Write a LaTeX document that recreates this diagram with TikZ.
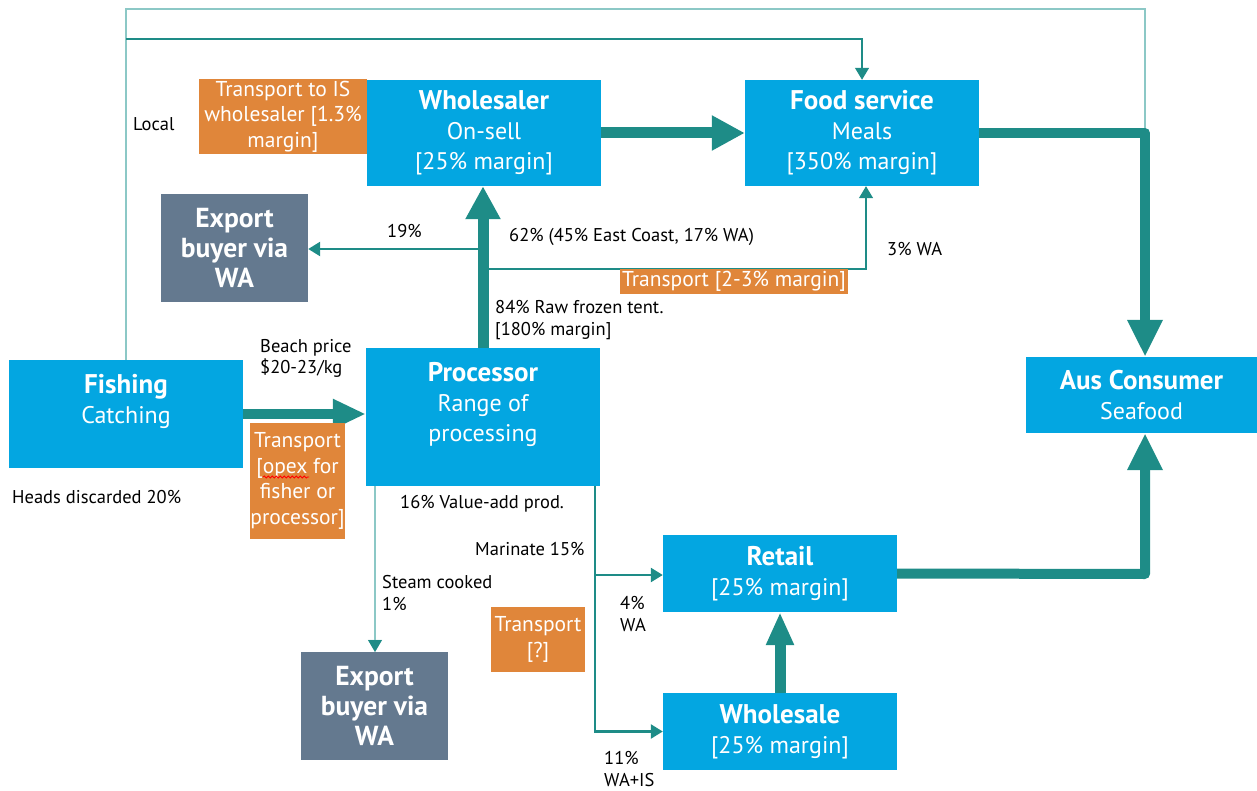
\documentclass[tikz,border=0pt]{standalone}
\usepackage{fontspec}
\setmainfont{PT Sans}
\usetikzlibrary{arrows.meta,calc,decorations.pathmorphing}
\definecolor{cblue}{RGB}{3,166,225}
\definecolor{corange}{RGB}{224,134,58}
\definecolor{cgray}{RGB}{100,121,143}
\definecolor{cteal}{RGB}{30,140,135}
\definecolor{clight}{RGB}{140,200,198}
\newcommand\boxtitle[1]{{\fontsize{27}{30}\selectfont\bfseries #1}}
\begin{document}
\begin{tikzpicture}[x=1pt,y=-1pt,
 box/.style={inner sep=0pt, align=center, text=white},
 bluebox/.style={box, fill=cblue, font=\fontsize{24}{30}\selectfont},
 graybox/.style={box, fill=cgray, font=\bfseries\fontsize{27.5}{30}\selectfont},
 orangebox/.style={box, fill=corange, font=\fontsize{21.5}{25.5}\selectfont},
 lbl/.style={anchor=west, inner sep=0pt, font=\fontsize{18.5}{21.5}\selectfont, align=left},
 bigarrow/.style={draw=cteal, line width=11pt, -{Triangle[length=33pt,width=33pt]}},
 bigline/.style={draw=cteal, line width=10pt, line join=round, -{Triangle[length=37pt,width=33pt]}},
 medline/.style={draw=cteal, line width=2.5pt, -{Triangle[length=12pt,width=14pt]}},
 thinline/.style={draw=cteal, line width=1.3pt, -{Triangle[length=12pt,width=14pt]}},
 lightline/.style={draw=clight, line width=1.5pt},
 squiggle/.style={draw=red, line width=0.8pt, decorate, decoration={snake, amplitude=1pt, segment length=4pt}},
]
\useasboundingbox (0,0) rectangle (1257,791);

% boxes
\node[bluebox, minimum width=234pt, minimum height=106pt] (wsr) at (484,133) {\boxtitle{Wholesaler}\\On-sell\\{[}25\% margin{]}};
\node[bluebox, minimum width=234pt, minimum height=106pt] (fs) at (862,133) {\boxtitle{Food service}\\Meals\\{[}350\% margin{]}};
\node[bluebox, minimum width=234pt, minimum height=108pt] (fish) at (126,414) {\boxtitle{Fishing}\\Catching\\\mbox{}};
\node[bluebox, minimum width=234pt, minimum height=138pt] (proc) at (483,417) {\boxtitle{Processor}\\Range of\\processing\\\mbox{}};
\node[bluebox, minimum width=231pt, minimum height=76pt] (aus) at (1141.5,395) {\boxtitle{Aus Consumer}\\Seafood};
\node[bluebox, minimum width=234pt, minimum height=77pt] (ret) at (780,573.5) {\boxtitle{Retail}\\{[}25\% margin{]}};
\node[bluebox, minimum width=234pt, minimum height=77pt] (whs) at (780,731.5) {\boxtitle{Wholesale}\\{[}25\% margin{]}};
\node[graybox, minimum width=147pt, minimum height=108pt] (ex1) at (234.5,248) {Export\\buyer via\\WA};
\node[graybox, minimum width=147pt, minimum height=108pt] (ex2) at (374.5,706) {Export\\buyer via\\WA};

% connectors (thin)
\coordinate (c1) at (126,9);
\coordinate (c2) at (1145,9);
\coordinate (c3) at (1145,130);
\coordinate (c4) at (126,39);
\draw[lightline] (fish.north) -- (c1) -- (c2) -- (c3);
\draw[thinline] (c4) -| (fs.north);
\coordinate (b1) at (483,249);
\coordinate (b2) at (483,269);
\draw[medline] (b1) -- (ex1.east |- b1);
\draw[thinline] (b2) -| ($(fs.south)+(4,0)$);
\coordinate (d1) at (375,486);
\coordinate (d2) at (595,486);
\coordinate (d3) at (595,575);
\draw[thinline, draw=clight] (d1) -- (d1 |- ex2.north);
\fill[cteal] (375,652) -- (368,640) -- (382,640) -- cycle;
\draw[medline] (d2) |- (whs.west);
\draw[medline] (d3) -- (ret.west |- d3);

% thick connectors
\draw[bigarrow] (proc.north) -- (proc.north |- wsr.south);
\draw[bigarrow] (wsr.east) -- (fs.west);
\draw[bigarrow, line width=10pt, -{Triangle[length=33pt,width=28pt]}] (fish.east) -- (proc.west |- fish.east);
\draw[bigline] (fs.east) -- (1145,133) -- (c3 |- aus.north);
\draw[bigline] (ret.east) -- (1145,574) -- (c3 |- aus.south);
\draw[bigarrow, -{Triangle[length=33pt,width=26pt]}] (whs.north) -- (ret.south);

% orange boxes
\node[orangebox, minimum width=168pt, minimum height=75pt] (tis) at (283,116.5) {Transport to IS\\wholesaler {[}1.3\%\\margin{]}};
\node[orangebox, minimum width=95pt, minimum height=116pt] (tox) at (297.5,481) {Transport\\{[}opex for\\fisher or\\processor{]}};
\node[orangebox, minimum width=94pt, minimum height=65pt] (tq) at (538,639.5) {Transport\\{[}?{]}};
\node[orangebox, minimum width=228pt, minimum height=25pt] (t23) at (734,281.5) {Transport {[}2-3\% margin{]}};
\coordinate (s1) at (263,477);
\coordinate (s2) at (309,477);
\draw[squiggle] (s1) -- (s2);

% labels
\node[lbl] (l1) at (133,124) {Local};
\node[lbl] (l2) at (387,231) {19\%};
\node[lbl] (l3) at (509,237) {62\% (45\% East Coast, 17\% WA)};
\node[lbl] (l4) at (887,249) {3\% WA};
\node[lbl] (l5) at (495,320) {84\% Raw frozen tent.\\{[}180\% margin{]}};
\node[lbl] (l6) at (260,358.5) {Beach price\\\$20-23/kg};
\node[lbl] (l7) at (12,497) {Heads discarded 20\%};
\node[lbl] (l8) at (400,504) {16\% Value-add prod.};
\node[lbl] (l9) at (475,549) {Marinate 15\%};
\node[lbl] (l10) at (382,593) {Steam cooked\\1\%};
\node[lbl] (l11) at (620,614) {4\%\\WA};
\node[lbl] (l12) at (604,769) {11\%\\WA+IS};
\end{tikzpicture}
\end{document}
